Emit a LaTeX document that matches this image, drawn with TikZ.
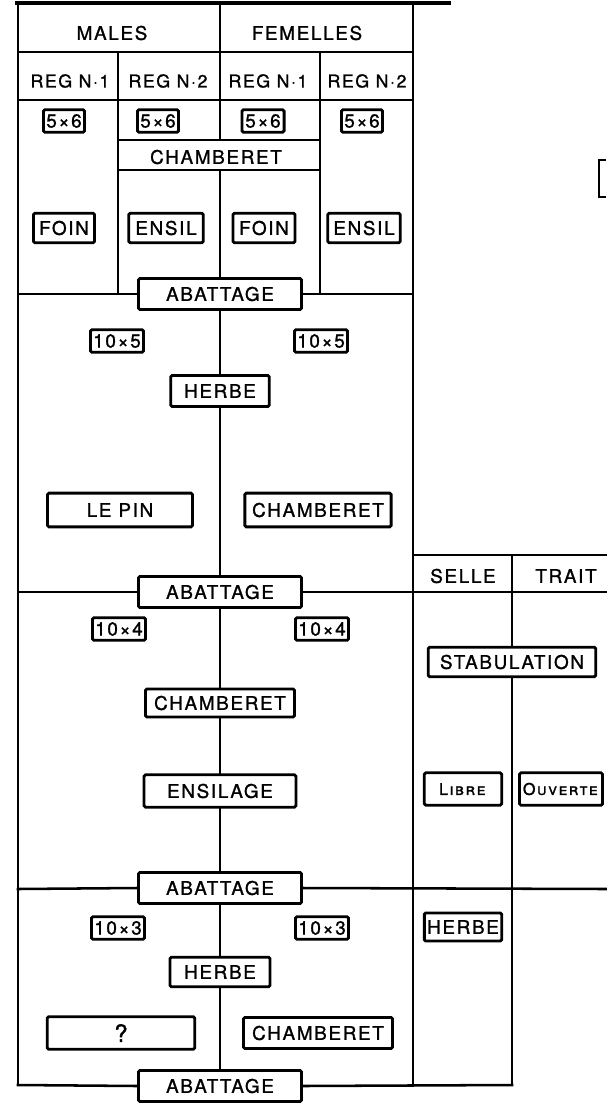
\documentclass[tikz,border=0pt]{standalone}
\usepackage{fontspec}
\newfontfamily\lettering[LetterSpace=9,FakeBold=1.2]{TeX Gyre Heros}
\usetikzlibrary{calc}

\begin{document}
\begin{tikzpicture}[x=0.025cm,y=-0.025cm,
  every node/.style={font=\lettering\fontsize{13.4}{15}\selectfont},
  rule/.style={line width=1.8pt,line cap=rect},
  tag/.style={draw,line width=2pt,rounded corners=1pt,fill=white,inner xsep=2pt,inner ysep=0pt,minimum height=16pt,minimum width=#1},
  tag/.default=30pt,
  panel/.style={draw,line width=2pt,rounded corners=1pt,fill=white,inner xsep=4pt,inner ysep=0pt,minimum height=22pt,minimum width=#1},
  panel/.default=116pt,
  reg/.style={font=\lettering\fontsize{12.6}{14}\selectfont}]
\useasboundingbox (0,0) rectangle (606,1103);

% frame and grid
\draw[line width=2.4pt] (15,3) -- (451,3);
\draw[rule] (18,3) -- (18,1085);
\draw[rule] (413,3) -- (413,1085);
\draw[rule] (18,52) -- (413,52);
\draw[rule] (18,100) -- (413,100);
\draw[rule] (118,140) -- (320,140);
\draw[rule] (118,170) -- (320,170);
\draw[rule] (220,3) -- (220,140);
\draw[rule] (118,52) -- (118,294);
\draw[rule] (320,52) -- (320,294);
\draw[rule] (413,555) -- (606,555);
\draw[line width=2pt] (606,160) -- (599,160) -- (599,197) -- (606,197);

% headings
\node (males) at (112,33) {MALES};
\node (femelles) at (307,33) {FEMELLES};
\node[reg] (regA) at (70,81) {REG N·1};
\node[reg] (regB) at (168,81) {REG N·2};
\node[reg] (regC) at (268,81) {REG N·1};
\node[reg] (regD) at (367,81) {REG N·2};
\node (chamTop) at (216,157) {CHAMBERET};
\node (selle) at (463,576) {SELLE};
\node (trait) at (566,576) {TRAIT};

% first period
\node[tag=26pt] (sixA) at (64,121) {5×6};
\node[tag=28pt] (sixB) at (158,121) {5×6};
\node[tag=30pt] (sixC) at (263,121) {5×6};
\node[tag=26pt] (sixD) at (362,121) {5×6};
\node[panel=41pt,minimum height=21pt] (foinA) at (64,228) {FOIN};
\node[panel=53pt,minimum height=21pt] (ensilA) at (166,228) {ENSIL};
\node[panel=44pt,minimum height=21pt] (foinB) at (264,228) {FOIN};
\node[panel=48pt,minimum height=21pt] (ensilB) at (364,228) {ENSIL};
\node[panel] (abatA) at (220,294) {ABATTAGE};

% second period
\node[tag=35pt] (fiveA) at (117,341) {10×5};
\node[tag=35pt] (fiveB) at (321,341) {10×5};
\node[panel=70pt] (herbeA) at (220,391) {HERBE};
\node[panel=103pt,minimum height=24pt] (lepin) at (120,510) {LE PIN};
\node[panel=104pt,minimum height=24pt] (chamA) at (318,510) {CHAMBERET};
\node[panel] (abatB) at (220,592) {ABATTAGE};

% third period
\node[tag=35pt] (fourA) at (119,629) {10×4};
\node[tag=37pt] (fourB) at (322,629) {10×4};
\node[panel=106pt,minimum height=20pt] (chamB) at (220,703) {CHAMBERET};
\node[panel=108pt,minimum height=23pt] (ensilage) at (220,791) {ENSILAGE};
\node[panel=119pt,minimum height=21pt] (stab) at (512,662) {STABULATION};
\node[panel=55pt,minimum height=23pt] (libre) at (463,789) {\fontsize{11.5}{12}\selectfont\textsc{Libre}};
\node[panel=59pt,minimum height=23pt,inner xsep=2pt] (ouverte) at (561,789) {\fontsize{11.5}{12}\selectfont\textsc{Ouverte}};
\node[panel] (abatC) at (220,888) {ABATTAGE};

% fourth period
\node[tag=34pt] (threeA) at (118,928) {10×3};
\node[tag=33pt] (threeB) at (322,928) {10×3};
\node[panel=54pt,minimum height=20pt,inner xsep=2pt] (herbeC) at (463,927) {HERBE};
\node[panel=71pt,minimum height=21pt] (herbeB) at (220,972) {HERBE};
\node[panel=105pt,minimum height=23pt] (query) at (121,1033) {\fontsize{17}{17}\selectfont ?};
\node[panel=106pt,minimum height=22pt] (chamC) at (318,1033) {CHAMBERET};
\node[panel] (abatD) at (220,1086) {ABATTAGE};

% period lines
\draw[rule] (18,294) -- (abatA.west);
\draw[rule] (abatA.east) -- (413,294);
\draw[rule] (18,592) -- (abatB.west);
\draw[rule] (abatB.east) -- (606,592);
\draw[rule] (18,889) -- (abatC.west);
\draw[rule] (abatC.east) -- (606,889);
\draw[rule] (18,1085) -- (abatD.west);
\draw[rule] (abatD.east) -- (512,1085);
\draw[rule] (512,555) -- (stab.north);
\draw[rule] (stab.south) -- (512,1085);

% spine
\draw[rule] (220,170) -- (abatA.north);
\draw[rule] (abatA.south) -- (herbeA.north);
\draw[rule] (herbeA.south) -- (abatB.north);
\draw[rule] (abatB.south) -- (chamB.north);
\draw[rule] (chamB.south) -- (ensilage.north);
\draw[rule] (ensilage.south) -- (abatC.north);
\draw[rule] (abatC.south) -- (herbeB.north);
\draw[rule] (herbeB.south) -- (abatD.north);
\end{tikzpicture}
\end{document}
